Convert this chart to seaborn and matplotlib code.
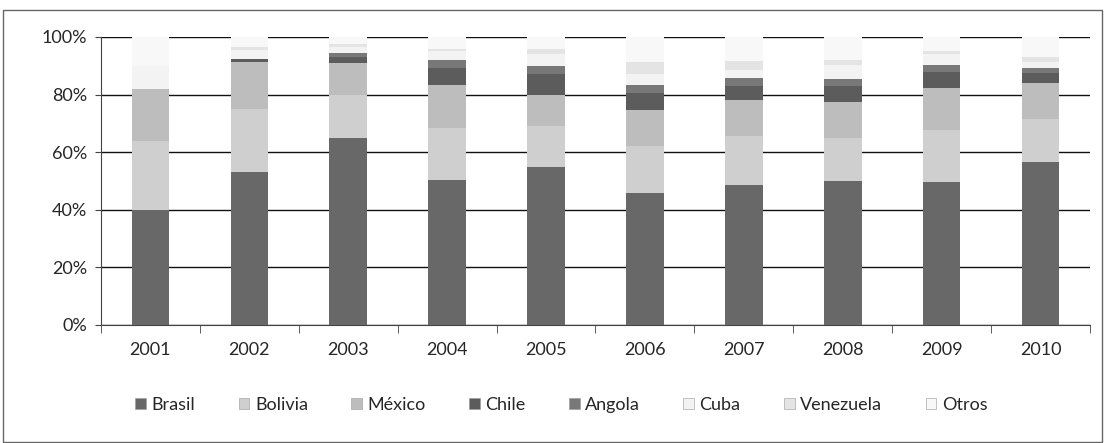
import seaborn as sns
import matplotlib.pyplot as plt
import numpy as np
import pandas as pd
from matplotlib.patches import Patch, Rectangle

# values (% of total per year)
years = ['2001', '2002', '2003', '2004', '2005', '2006', '2007', '2008', '2009', '2010']
brasil = [40, 53, 65, 50.5, 55, 46, 48.6, 50, 49.7, 56.6]
bolivia = [24, 22, 15, 18, 14, 16, 17, 15, 18, 15]
mexico = [18, 16.4, 11, 14.8, 11, 12.7, 12.4, 12.4, 14.6, 12.4]
chile = [0, 1, 2, 6, 7, 6, 5, 5.5, 5.5, 3.5]
angola = [0, 0, 1.4, 2.7, 3, 2.6, 2.7, 2.5, 2.5, 1.7]
cuba = [8, 3, 2, 3, 4, 4, 3, 5, 3.7, 2]
venezuela = [0, 1, 1, 1, 2, 4, 3, 1.6, 1, 1.8]
otros = [10, 3.6, 2.6, 4, 4, 8.7, 8.3, 8, 5, 7]

series = ['Brasil', 'Bolivia', 'México', 'Chile', 'Angola', 'Cuba', 'Venezuela', 'Otros']
colors = ['#686868', '#cfcfcf', '#bdbdbd', '#5c5c5c', '#787878', '#f3f3f3', '#e4e4e4', '#f8f8f8']

df = pd.DataFrame({'year': years, 'Brasil': brasil, 'Bolivia': bolivia, 'México': mexico,
                   'Chile': chile, 'Angola': angola, 'Cuba': cuba,
                   'Venezuela': venezuela, 'Otros': otros})
cum = df[series].cumsum(axis=1)

sns.set_style('white')
plt.rcParams['font.family'] = ['Lato', 'DejaVu Sans']

fig = plt.figure(figsize=(11.05, 4.43), dpi=100)
ax = fig.add_axes([0.0914, 0.2664, 0.895, 0.6501])

# stacked bars: tallest cumulative layer first, smaller ones drawn over it
for name, col in reversed(list(zip(series, colors))):
    sns.barplot(x=df['year'], y=cum[name], color=col, width=0.38, ax=ax,
                edgecolor='none', linewidth=0, zorder=3)

ax.set_ylim(0, 100)
ax.set_xlim(-0.5, 9.5)
ax.set_yticks(np.arange(0, 101, 20))
ax.set_yticklabels([f'{v}%' for v in range(0, 101, 20)], fontsize=13)
ax.set_xticks(range(len(years)))
ax.set_xticklabels(years, fontsize=13)
ax.set_xlabel('')
ax.set_ylabel('')
ax.yaxis.grid(True, color='#111111', linewidth=1, zorder=0)
ax.set_axisbelow(True)

ax.tick_params(axis='x', length=0, pad=12)
ax.tick_params(axis='y', length=4, direction='out', color='#444444', left=True, pad=6)
# small ticks at category boundaries
ax.set_xticks(np.arange(-0.5, 10, 1), minor=True)
ax.tick_params(axis='x', which='minor', length=6, direction='out', color='#444444', bottom=True)

for s in ['top', 'right']:
    ax.spines[s].set_visible(False)
ax.spines['left'].set_color('#444444')
ax.spines['bottom'].set_color('#444444')

handles = [Patch(facecolor=c, edgecolor='#999999', linewidth=0.4) for c in colors]
fig.legend(handles, series, loc='center', bbox_to_anchor=(0.508, 0.086), ncol=8,
           frameon=False, fontsize=13, handlelength=0.6, handleheight=0.6,
           handletextpad=0.3, columnspacing=2.4)

# outer frame of the scanned chart
fig.patches.append(Rectangle((0.003, 0.003), 0.994, 0.975, transform=fig.transFigure,
                             fill=False, edgecolor='#666666', linewidth=1))

fig.savefig('out.png', dpi=100)
